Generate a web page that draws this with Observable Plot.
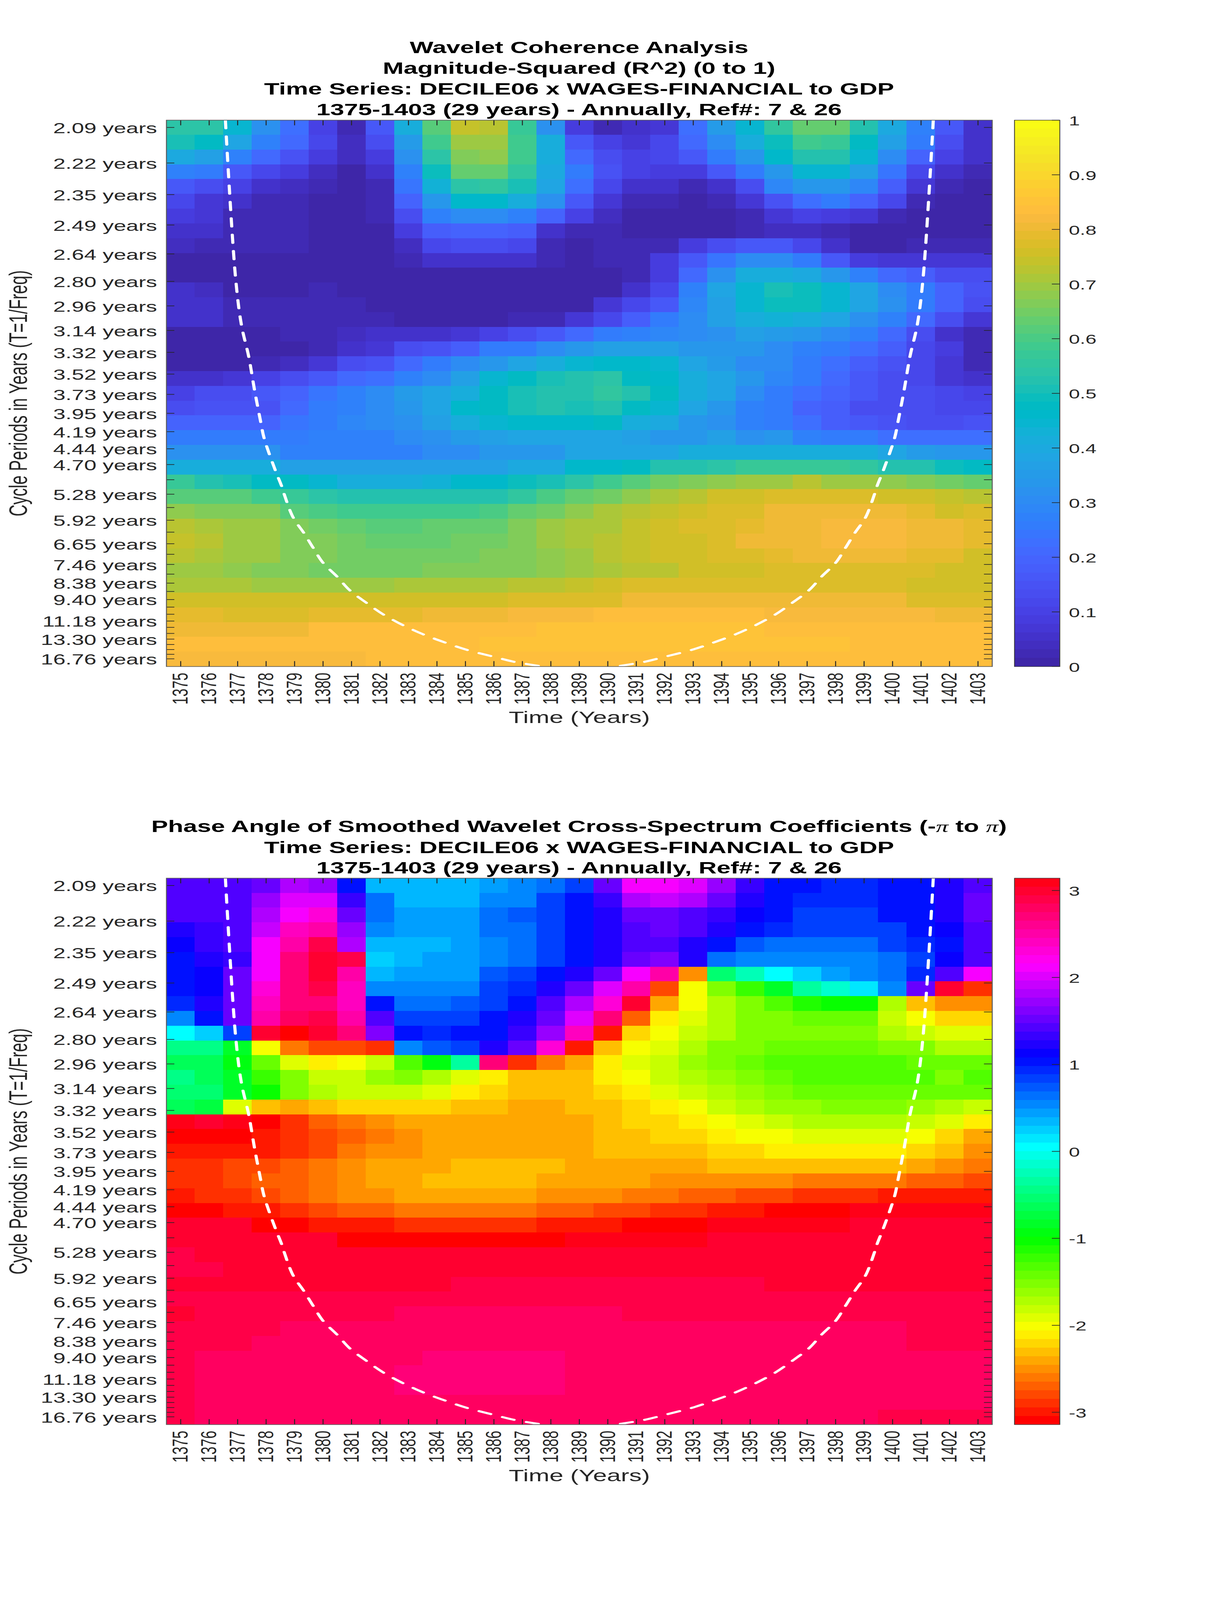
<!DOCTYPE html>
<html>
<head>
<meta charset="utf-8">
<script src="https://cdn.jsdelivr.net/npm/d3@7"></script>
<script src="https://cdn.jsdelivr.net/npm/@observablehq/plot@0.6"></script>
<style>
html,body{margin:0;padding:0;background:#fff;overflow:hidden;}
#page{position:relative;width:3125px;height:6252px;overflow:hidden;background:#fff;font-family:"Liberation Sans",Arial,sans-serif;transform-origin:0 0;}
.title{position:absolute;left:0;width:2964px;text-align:center;font-weight:bold;font-size:64px;line-height:80.6px;color:#000;white-space:nowrap;}
.title .pi{font-family:"Liberation Serif",serif;font-style:italic;font-weight:normal;}
.part{position:absolute;}
</style>
</head>
<body>
<div id="page">
<div class="title" style="top:146px">Wavelet Coherence Analysis<br>Magnitude-Squared (R^2) (0 to 1)<br>Time Series: DECILE06 x WAGES-FINANCIAL to GDP<br>1375-1403 (29 years) - Annually, Ref#: 7 &amp; 26</div>
<div class="title" style="top:3189px">Phase Angle of Smoothed Wavelet Cross-Spectrum Coefficients (-<span class="pi">π</span> to <span class="pi">π</span>)<br>Time Series: DECILE06 x WAGES-FINANCIAL to GDP<br>1375-1403 (29 years) - Annually, Ref#: 7 &amp; 26</div>
</div>
<script>
const years = d3.range(1375, 1404);
const periods = [2.09,2.22,2.35,2.49,2.64,2.80,2.96,3.14,3.32,3.52,3.73,3.95,4.19,4.44,4.70,4.98,5.28,5.59,5.92,6.27,6.65,7.04,7.46,7.91,8.38,8.87,9.40,9.96,10.55,11.18,11.84,12.55,13.30,14.09,14.93,15.82,16.76];
const labelledPeriods = [2.09,2.22,2.35,2.49,2.64,2.80,2.96,3.14,3.32,3.52,3.73,3.95,4.19,4.44,4.70,5.28,5.92,6.65,7.46,8.38,9.40,11.18,13.30,16.76];
const freqTop = 0.48423, freqBottom = 0.05358;

const coherence = [
[.54,.54,.45,.32,.22,.10,.03,.16,.42,.62,.74,.72,.57,.32,.09,.03,.05,.07,.22,.35,.45,.55,.63,.63,.52,.40,.28,.17,.06],
[.50,.48,.38,.28,.21,.11,.04,.14,.35,.59,.69,.69,.59,.42,.17,.10,.07,.12,.21,.31,.41,.49,.59,.57,.48,.37,.25,.13,.06],
[.40,.37,.28,.21,.15,.09,.04,.09,.32,.54,.67,.68,.59,.42,.21,.14,.10,.11,.17,.25,.34,.46,.52,.52,.45,.30,.19,.10,.05],
[.27,.25,.16,.12,.09,.04,.00,.05,.27,.49,.63,.64,.55,.40,.25,.15,.10,.09,.09,.16,.25,.34,.44,.44,.36,.24,.11,.05,.03],
[.16,.14,.10,.06,.04,.02,.00,.03,.24,.43,.54,.56,.50,.39,.22,.12,.06,.05,.03,.06,.14,.29,.34,.34,.29,.18,.07,.03,.01],
[.11,.07,.06,.03,.03,.01,.00,.03,.19,.34,.46,.46,.41,.32,.17,.07,.03,.02,.01,.03,.07,.15,.22,.25,.20,.11,.03,.00,.00],
[.09,.07,.03,.03,.02,.01,.00,.02,.14,.27,.31,.31,.27,.19,.10,.04,.01,.01,.00,.00,.02,.07,.10,.09,.07,.03,.00,.00,.00],
[.06,.06,.03,.02,.02,.01,.00,.00,.09,.18,.20,.20,.18,.06,.03,.02,.01,.01,.01,.01,.02,.04,.04,.03,.00,.00,.00,.00,.00],
[.04,.03,.02,.02,.02,.01,.00,.00,.04,.11,.13,.13,.11,.03,.01,.03,.03,.03,.08,.14,.16,.16,.12,.05,.00,.00,.02,.03,.03],
[.01,.01,.01,.01,.01,.00,.00,.00,.03,.05,.06,.06,.05,.03,.00,.02,.02,.08,.17,.24,.30,.30,.25,.17,.09,.07,.07,.07,.07],
[.01,.01,.00,.00,.01,.01,.00,.00,.00,.01,.01,.01,.01,.01,.00,.00,.03,.09,.21,.32,.42,.42,.40,.33,.28,.21,.18,.14,.14],
[.05,.04,.00,.00,.00,.02,.00,.00,.00,.00,.00,.00,.00,.00,.00,.01,.06,.12,.28,.38,.45,.50,.49,.45,.38,.30,.25,.19,.15],
[.06,.06,.03,.03,.02,.02,.02,.00,.00,.00,.00,.00,.00,.00,.01,.07,.11,.17,.29,.37,.45,.49,.49,.45,.38,.32,.26,.20,.13],
[.05,.05,.02,.02,.02,.03,.03,.03,.00,.00,.00,.00,.02,.03,.07,.12,.18,.25,.31,.36,.41,.43,.41,.38,.32,.27,.21,.13,.07],
[.00,.00,.00,.00,.02,.03,.04,.05,.06,.06,.07,.10,.13,.16,.21,.25,.27,.29,.31,.32,.36,.35,.33,.30,.27,.21,.14,.06,.02],
[.00,.00,.00,.00,.00,.02,.05,.07,.13,.15,.18,.25,.26,.31,.34,.36,.36,.36,.34,.34,.34,.31,.28,.25,.23,.18,.12,.08,.02],
[.00,.00,.00,.03,.04,.07,.13,.15,.21,.25,.30,.33,.39,.42,.45,.46,.46,.44,.39,.35,.31,.30,.26,.22,.18,.15,.12,.07,.03],
[.05,.05,.07,.10,.13,.16,.21,.22,.28,.31,.37,.44,.47,.51,.52,.54,.48,.46,.42,.38,.34,.29,.25,.21,.16,.13,.11,.07,.06],
[.10,.13,.13,.16,.19,.24,.28,.30,.35,.38,.42,.47,.51,.53,.52,.56,.52,.47,.42,.38,.31,.26,.23,.20,.16,.14,.13,.11,.10],
[.14,.15,.15,.15,.21,.25,.28,.31,.33,.39,.46,.47,.50,.52,.50,.53,.47,.45,.38,.34,.28,.25,.20,.18,.14,.14,.13,.12,.11],
[.20,.20,.20,.20,.24,.26,.29,.30,.32,.37,.41,.44,.46,.46,.46,.47,.42,.40,.34,.32,.28,.25,.22,.18,.16,.15,.13,.13,.15],
[.25,.25,.25,.25,.26,.28,.28,.28,.30,.32,.35,.37,.38,.38,.38,.38,.37,.34,.33,.36,.32,.33,.28,.25,.25,.22,.22,.22,.22],
[.32,.32,.32,.32,.28,.28,.28,.28,.28,.30,.30,.33,.33,.33,.38,.38,.38,.38,.42,.42,.41,.41,.41,.41,.41,.38,.35,.33,.33],
[.41,.41,.41,.41,.36,.36,.36,.36,.36,.37,.37,.37,.40,.40,.46,.46,.48,.52,.52,.54,.57,.57,.57,.57,.55,.53,.52,.49,.48],
[.57,.52,.50,.47,.47,.44,.42,.42,.42,.43,.46,.46,.49,.50,.54,.59,.61,.65,.66,.68,.70,.70,.72,.70,.70,.68,.66,.65,.64],
[.62,.61,.61,.59,.57,.54,.52,.52,.52,.52,.52,.53,.56,.60,.63,.65,.68,.71,.73,.75,.76,.78,.78,.78,.78,.75,.75,.74,.72],
[.68,.67,.66,.66,.62,.60,.59,.59,.59,.59,.59,.60,.63,.65,.68,.71,.73,.74,.76,.77,.78,.80,.80,.80,.80,.80,.79,.76,.77],
[.73,.71,.69,.69,.66,.65,.63,.62,.62,.63,.63,.64,.67,.69,.71,.71,.74,.75,.77,.78,.79,.80,.80,.82,.82,.82,.81,.81,.79],
[.74,.72,.70,.70,.66,.66,.65,.64,.64,.64,.65,.65,.67,.69,.71,.73,.74,.75,.76,.78,.80,.81,.81,.82,.82,.82,.81,.81,.79],
[.73,.71,.69,.69,.66,.67,.65,.65,.65,.65,.65,.66,.66,.68,.70,.72,.74,.75,.76,.78,.78,.79,.80,.80,.80,.80,.79,.79,.76],
[.70,.70,.68,.67,.66,.65,.65,.65,.65,.66,.66,.66,.67,.68,.70,.71,.73,.73,.75,.76,.76,.77,.77,.77,.77,.77,.77,.75,.75],
[.71,.71,.71,.70,.70,.70,.70,.70,.71,.71,.71,.71,.72,.72,.74,.75,.77,.77,.77,.78,.78,.78,.78,.78,.78,.78,.76,.76,.76],
[.75,.75,.75,.75,.75,.75,.75,.75,.75,.75,.76,.76,.77,.78,.78,.78,.80,.80,.80,.80,.80,.80,.80,.80,.80,.80,.78,.78,.78],
[.79,.79,.78,.78,.78,.79,.79,.79,.79,.81,.81,.81,.82,.82,.82,.83,.84,.84,.84,.84,.84,.82,.82,.82,.82,.82,.82,.81,.81],
[.81,.81,.81,.81,.81,.83,.83,.83,.83,.84,.84,.84,.84,.85,.85,.85,.85,.85,.85,.85,.85,.84,.84,.84,.84,.84,.84,.83,.83],
[.83,.83,.83,.83,.83,.83,.83,.84,.84,.84,.84,.85,.85,.85,.85,.85,.85,.85,.85,.85,.85,.85,.85,.85,.84,.84,.84,.84,.84],
[.82,.82,.82,.82,.82,.82,.82,.83,.83,.83,.83,.83,.83,.83,.83,.84,.84,.84,.84,.84,.84,.84,.84,.84,.84,.84,.83,.83,.83]
];

const phase = [
[1.45,1.45,1.45,1.57,1.78,1.71,1.05,.39,.30,.30,.36,.45,.55,.65,.79,1.5,2.09,2.09,1.97,1.68,1.31,1.05,1.0,.9,.9,1.0,1.05,1.25,1.45],
[1.45,1.45,1.47,1.75,1.97,1.97,1.31,.62,.39,.39,.39,.5,.5,.79,1.05,1.3,1.83,1.9,1.85,1.57,1.25,1.05,.92,.92,.92,1.0,1.05,1.18,1.55],
[1.38,1.38,1.45,1.83,2.09,2.29,1.57,.62,.42,.42,.42,.65,.72,.85,1.05,1.2,1.55,1.5,1.45,1.31,1.13,1.02,.88,.88,.88,1.0,1.05,1.2,1.5],
[1.25,1.31,1.4,1.93,2.45,2.55,1.7,.52,.42,.42,.42,.6,.68,.85,1.05,1.18,1.38,1.5,1.45,1.2,1.05,.92,.79,.79,.79,.85,1.05,1.13,1.42],
[1.13,1.31,1.38,2.09,2.52,2.88,1.83,.3,.3,.39,.4,.58,.68,.85,1.05,1.18,1.38,1.45,1.25,1.05,.76,.68,.68,.68,.68,.82,.97,1.05,1.45],
[1.05,1.2,1.31,2.09,2.74,3.0,2.85,.22,.33,.42,.42,.58,.65,.85,1.05,1.18,1.5,1.6,1.18,.65,.5,.5,.5,.5,.58,.68,.85,1.08,1.42],
[1.05,1.13,1.5,2.09,2.74,2.95,2.52,.33,.42,.42,.45,.76,.79,1.05,1.25,1.5,2.09,2.55,-2.5,-.55,-.2,0,.2,.42,.52,.68,.97,1.45,2.09],
[1.0,1.1,1.5,2.29,2.68,2.88,2.42,.58,.5,.5,.58,.82,.9,1.18,1.5,1.97,2.55,-2.8,-2.05,-1.57,-1.2,-.85,-.38,-.13,.1,.5,1.57,2.95,-2.9],
[.9,1.18,1.57,2.45,2.68,2.74,2.45,1.0,.68,.68,.72,.88,1.05,1.38,1.78,2.3,3.0,-2.4,-2.0,-1.75,-1.5,-1.28,-1.15,-1.05,-1.05,-1.72,-2.3,-2.5,-2.5],
[.58,1.05,1.57,2.55,2.8,2.88,2.55,1.38,.85,.79,.85,1.0,1.25,1.57,1.97,2.74,-2.7,-2.15,-1.9,-1.74,-1.57,-1.5,-1.4,-1.4,-1.45,-1.78,-2.05,-2.2,-2.2],
[0,.2,.85,2.95,-3.14,3.0,2.74,1.65,1.05,.92,1.0,1.05,1.31,1.7,2.45,-3.0,-2.25,-2.0,-1.8,-1.68,-1.57,-1.48,-1.48,-1.48,-1.48,-1.68,-1.8,-1.95,-1.95],
[-.42,-.42,-.85,-2.05,-2.6,-2.8,-2.8,-2.9,.58,.7,.85,1.18,1.57,2.3,-3.0,-2.3,-2.05,-1.88,-1.7,-1.55,-1.55,-1.4,-1.4,-1.4,-1.45,-1.5,-1.55,-1.72,-1.72],
[-.6,-.6,-.9,-1.38,-1.95,-2.15,-2.05,-1.8,-1.35,-.9,-.38,2.74,-2.9,-2.6,-2.4,-2.1,-1.95,-1.83,-1.6,-1.5,-1.4,-1.33,-1.33,-1.33,-1.33,-1.33,-1.4,-1.45,-1.45],
[-.45,-.65,-.85,-1.2,-1.57,-1.78,-1.78,-1.65,-1.5,-1.7,-1.88,-2.1,-2.3,-2.3,-2.3,-2.1,-2.05,-1.83,-1.74,-1.65,-1.55,-1.45,-1.33,-1.33,-1.33,-1.33,-1.33,-1.48,-1.3],
[-.5,-.5,-.85,-1.05,-1.55,-1.74,-1.83,-1.83,-1.83,-1.95,-2.1,-2.2,-2.3,-2.3,-2.3,-2.2,-2.1,-1.95,-1.83,-1.74,-1.65,-1.5,-1.45,-1.45,-1.45,-1.45,-1.45,-1.45,-1.45],
[-.6,-.75,-1.95,-2.3,-2.4,-2.3,-2.2,-2.2,-2.2,-2.2,-2.3,-2.3,-2.4,-2.4,-2.3,-2.3,-2.2,-2.1,-2.05,-1.83,-1.74,-1.65,-1.65,-1.55,-1.55,-1.55,-1.65,-1.74,-1.83],
[3.05,2.95,3.05,-3.14,-2.9,-2.7,-2.6,-2.5,-2.4,-2.4,-2.4,-2.4,-2.4,-2.4,-2.4,-2.3,-2.2,-2.2,-2.1,-2.05,-1.95,-1.83,-1.74,-1.74,-1.74,-1.74,-1.83,-1.95,-2.1],
[-3.14,-3.14,-3.14,-3.0,-2.9,-2.8,-2.7,-2.6,-2.5,-2.4,-2.4,-2.4,-2.4,-2.4,-2.4,-2.3,-2.3,-2.2,-2.2,-2.1,-2.05,-2.05,-1.95,-1.95,-1.95,-1.95,-2.05,-2.2,-2.4],
[-3.0,-3.0,-3.0,-3.0,-2.9,-2.8,-2.6,-2.5,-2.5,-2.4,-2.4,-2.4,-2.4,-2.4,-2.4,-2.3,-2.3,-2.3,-2.3,-2.2,-2.2,-2.1,-2.1,-2.1,-2.1,-2.1,-2.2,-2.3,-2.5],
[-2.9,-2.9,-2.8,-2.8,-2.7,-2.6,-2.5,-2.4,-2.4,-2.4,-2.3,-2.3,-2.3,-2.3,-2.4,-2.4,-2.4,-2.4,-2.4,-2.3,-2.3,-2.3,-2.3,-2.3,-2.3,-2.3,-2.4,-2.5,-2.6],
[-2.9,-2.9,-2.8,-2.7,-2.7,-2.6,-2.5,-2.4,-2.4,-2.3,-2.3,-2.3,-2.3,-2.4,-2.4,-2.4,-2.4,-2.5,-2.5,-2.5,-2.5,-2.5,-2.6,-2.6,-2.6,-2.6,-2.7,-2.7,-2.8],
[-3.0,-2.9,-2.9,-2.8,-2.7,-2.6,-2.5,-2.5,-2.4,-2.4,-2.4,-2.4,-2.4,-2.5,-2.5,-2.5,-2.6,-2.6,-2.7,-2.7,-2.8,-2.8,-2.9,-2.9,-2.9,-3.0,-3.0,-3.0,-3.0],
[-3.14,-3.14,-3.0,-3.0,-2.9,-2.8,-2.7,-2.7,-2.6,-2.6,-2.6,-2.6,-2.6,-2.7,-2.7,-2.8,-2.8,-2.9,-2.9,-3.0,-3.0,-3.14,-3.14,-3.14,3.05,3.05,3.05,3.05,3.05],
[3.0,3.0,3.0,-3.14,-3.14,-3.0,-3.0,-3.0,-2.9,-2.9,-2.9,-2.9,-2.9,-3.0,-3.0,-3.0,-3.14,-3.14,-3.14,3.05,3.05,3.05,3.05,3.05,2.95,2.95,2.95,2.95,3.0],
[3.0,3.0,3.0,3.0,3.0,3.0,-3.14,-3.14,-3.14,-3.14,-3.14,-3.14,-3.14,-3.14,3.05,3.05,3.05,3.05,3.05,2.95,2.95,2.95,2.95,2.95,2.95,2.95,2.95,2.95,2.95],
[2.88,3.0,3.0,3.0,3.0,3.0,3.0,3.0,3.0,3.0,3.0,3.0,3.0,3.0,3.0,2.95,2.95,2.95,2.95,2.95,2.95,2.95,2.95,2.95,2.95,2.95,2.95,2.95,2.95],
[2.9,2.9,2.95,2.95,2.95,2.95,2.95,2.95,2.95,2.95,2.95,2.95,2.95,2.95,2.95,2.95,2.95,2.95,2.95,2.95,2.95,2.95,2.95,2.95,2.95,2.95,2.95,2.95,2.95],
[2.95,2.95,2.95,2.95,2.95,2.95,2.95,2.95,2.95,2.95,2.9,2.9,2.9,2.9,2.9,2.9,2.9,2.9,2.9,2.9,2.9,2.95,2.95,2.95,2.95,2.95,2.95,2.95,2.95],
[2.9,2.9,2.9,2.9,2.9,2.9,2.9,2.9,2.9,2.9,2.9,2.9,2.9,2.9,2.9,2.9,2.9,2.9,2.9,2.9,2.9,2.9,2.9,2.9,2.9,2.9,2.9,2.9,2.9],
[2.95,2.9,2.9,2.9,2.9,2.9,2.9,2.9,2.82,2.82,2.82,2.82,2.82,2.82,2.82,2.82,2.9,2.9,2.9,2.9,2.9,2.9,2.9,2.9,2.9,2.9,2.9,2.9,2.9],
[2.9,2.9,2.9,2.9,2.82,2.82,2.82,2.82,2.82,2.82,2.82,2.82,2.82,2.82,2.82,2.82,2.82,2.82,2.82,2.82,2.82,2.82,2.82,2.82,2.82,2.82,2.9,2.9,2.9],
[2.9,2.9,2.9,2.82,2.82,2.82,2.82,2.82,2.82,2.82,2.82,2.82,2.82,2.82,2.82,2.82,2.82,2.82,2.82,2.82,2.82,2.82,2.82,2.82,2.82,2.82,2.85,2.85,2.85],
[2.9,2.82,2.82,2.8,2.8,2.8,2.8,2.8,2.8,2.72,2.72,2.72,2.72,2.72,2.8,2.8,2.8,2.8,2.8,2.8,2.8,2.8,2.8,2.8,2.8,2.8,2.82,2.82,2.82],
[2.9,2.8,2.8,2.8,2.8,2.8,2.8,2.8,2.72,2.72,2.72,2.72,2.72,2.72,2.8,2.8,2.8,2.8,2.8,2.8,2.8,2.8,2.8,2.8,2.8,2.8,2.82,2.82,2.82],
[2.9,2.8,2.8,2.8,2.8,2.8,2.8,2.8,2.72,2.72,2.72,2.72,2.72,2.72,2.8,2.8,2.8,2.8,2.8,2.8,2.8,2.8,2.8,2.8,2.8,2.8,2.82,2.82,2.82],
[2.9,2.8,2.8,2.8,2.8,2.8,2.8,2.8,2.8,2.8,2.8,2.8,2.8,2.8,2.8,2.8,2.8,2.8,2.8,2.8,2.8,2.8,2.8,2.8,2.8,2.8,2.8,2.8,2.8],
[2.88,2.8,2.8,2.8,2.8,2.8,2.8,2.8,2.8,2.8,2.8,2.8,2.8,2.8,2.8,2.8,2.8,2.8,2.8,2.8,2.8,2.8,2.8,2.8,2.8,2.85,2.85,2.85,2.85]
];

// cone of influence (top to bottom)
const coiPeriods = [2.065,2.764,3.094,3.358,3.677,4.058,4.281,4.798,5.10,5.27,5.845,6.30,6.79,7.39,8.03,8.80,9.63,10.59,11.59,12.64,13.77,14.97,16.31,17.45,18.48];
const coiLeftYears = [1376.57,1376.92,1377.13,1377.39,1377.59,1377.81,1377.93,1378.32,1378.54,1378.63,1378.95,1379.33,1379.65,1380.0,1380.49,1380.94,1381.52,1382.13,1382.8,1383.5,1384.27,1385.04,1385.99,1386.71,1387.56];
const coiRightYears = [1401.43,1401.08,1400.87,1400.61,1400.41,1400.19,1400.07,1399.68,1399.46,1399.37,1399.05,1398.67,1398.35,1398.0,1397.51,1397.06,1396.48,1395.87,1395.2,1394.5,1393.73,1392.96,1392.01,1391.29,1390.44];

// MATLAB parula(64)
const parulaRows = [[.2422,.1504,.6603],[.2504,.1650,.7076],[.2578,.1818,.7511],[.2647,.1978,.7952],[.2706,.2147,.8364],[.2751,.2342,.8710],[.2783,.2559,.8991],[.2803,.2782,.9221],[.2813,.3006,.9414],[.2810,.3228,.9579],[.2795,.3447,.9717],[.2760,.3667,.9829],[.2699,.3892,.9906],[.2602,.4123,.9952],[.2440,.4358,.9988],[.2206,.4603,.9973],[.1963,.4847,.9892],[.1834,.5074,.9798],[.1786,.5289,.9682],[.1764,.5499,.9520],[.1687,.5703,.9359],[.1540,.5902,.9218],[.1460,.6091,.9079],[.1380,.6276,.8973],[.1248,.6459,.8883],[.1113,.6635,.8763],[.0952,.6798,.8598],[.0689,.6948,.8394],[.0297,.7082,.8163],[.0036,.7203,.7917],[.0067,.7312,.7660],[.0433,.7411,.7394],[.0964,.7500,.7120],[.1408,.7584,.6842],[.1717,.7670,.6554],[.1938,.7758,.6251],[.2161,.7843,.5923],[.2470,.7918,.5567],[.2906,.7973,.5188],[.3406,.8008,.4789],[.3909,.8029,.4354],[.4456,.8024,.3909],[.5044,.7993,.3480],[.5616,.7942,.3045],[.6174,.7876,.2612],[.6720,.7793,.2227],[.7242,.7698,.1910],[.7738,.7598,.1646],[.8203,.7498,.1535],[.8634,.7406,.1596],[.9035,.7330,.1774],[.9393,.7288,.2100],[.9728,.7298,.2394],[.9956,.7434,.2371],[.9970,.7659,.2199],[.9952,.7893,.2028],[.9892,.8136,.1885],[.9786,.8386,.1766],[.9676,.8639,.1643],[.9610,.8890,.1537],[.9597,.9135,.1423],[.9628,.9373,.1265],[.9691,.9606,.1064],[.9769,.9839,.0805]];
const parula = parulaRows.map(([r,g,b]) => d3.rgb(r*255,g*255,b*255).toString());
const hsv64 = d3.range(64).map(i => d3.hsl(i*360/64,1,.5).toString());

const ink = "#262626";
const fontFamily = '"Liberation Sans", Arial, sans-serif';
const frameHeight = 2135, frameWidth = 2113.5;
const page = document.getElementById("page");

function place(node, left, top){
  const wrap = document.createElement("div");
  wrap.className = "part";
  wrap.style.left = left + "px";
  wrap.style.top = top + "px";
  wrap.appendChild(node);
  page.appendChild(wrap);
}

function heatmap(values, colorDomain, colorRange){
  const cells = values.flatMap((row, r) => row.map((v, c) => ({year: years[c], r, v})));
  const step = (freqTop - freqBottom) / values.length;
  const ticks = periods.map(p => 1 / p);
  const labelled = new Map(labelledPeriods.map(p => [1 / p, p.toFixed(2) + " years"]));
  const coi = yrs => yrs.map((year, i) => ({year, freq: 1 / coiPeriods[i]}));
  const tick = {stroke: ink, strokeWidth: 2.5};
  return Plot.plot({
    width: 2560, height: 40 + frameHeight + 340,
    marginLeft: 425.5, marginRight: 21, marginTop: 40, marginBottom: 340,
    style: {fontFamily, background: "transparent", overflow: "visible"},
    x: {domain: [1374.5, 1403.5], axis: null},
    y: {domain: [freqBottom, freqTop], axis: null},
    color: {type: "threshold", domain: colorDomain, range: colorRange},
    marks: [
      Plot.rect(cells, {
        x1: d => d.year - .5, x2: d => d.year + .5,
        y1: d => freqTop - d.r * step, y2: d => freqTop - (d.r + 1) * step,
        fill: "v", shapeRendering: "crispEdges"
      }),
      Plot.line(coi(coiLeftYears), {x: "year", y: "freq", stroke: "white", strokeWidth: 8, strokeDasharray: "32 32", curve: "catmull-rom", clip: true}),
      Plot.line(coi(coiRightYears), {x: "year", y: "freq", stroke: "white", strokeWidth: 8, strokeDasharray: "32 32", curve: "catmull-rom", clip: true}),
      Plot.ruleX(years, {...tick, insetBottom: frameHeight - 20.7}),
      Plot.ruleX(years, {...tick, insetTop: frameHeight - 20.7}),
      Plot.ruleY(ticks, {...tick, insetRight: frameWidth - 20.7}),
      Plot.ruleY(ticks, {...tick, insetLeft: frameWidth - 20.7}),
      Plot.frame({stroke: "#5a5a5a", strokeWidth: 2.5}),
      Plot.axisX(years, {anchor: "bottom", tickSize: 0, tickPadding: 24, tickRotate: -90, fontSize: 56, fill: ink, label: null, tickFormat: d => String(d)}),
      Plot.axisY(ticks, {anchor: "left", tickSize: 0, tickPadding: 24, fontSize: 57, fill: ink, label: null, dy: 4, tickFormat: f => labelled.get(f) ?? ""}),
      Plot.text(["Time (Years)"], {frameAnchor: "bottom", lineAnchor: "middle", dy: 201, fontSize: 64, fill: ink}),
      Plot.text(["Cycle Periods in Years (T=1/Freq)"], {frameAnchor: "left", textAnchor: "middle", lineAnchor: "middle", dx: -377.5, rotate: -90, fontSize: 64, fill: ink})
    ]
  });
}

function colorbar(domainY, colorDomain, colorRange, tickValues, fmt){
  const n = colorRange.length, span = domainY[1] - domainY[0];
  const levels = d3.range(n).map(i => ({
    lo: domainY[0] + i * span / n,
    hi: domainY[0] + (i + 1) * span / n,
    mid: domainY[0] + (i + .5) * span / n
  }));
  return Plot.plot({
    width: 250, height: 40 + frameHeight + 60,
    marginLeft: 4, marginRight: 130, marginTop: 40, marginBottom: 60,
    style: {fontFamily, background: "transparent", overflow: "visible"},
    x: {domain: [0, 1], axis: null},
    y: {domain: domainY, axis: null},
    color: {type: "threshold", domain: colorDomain, range: colorRange},
    marks: [
      Plot.rect(levels, {x1: () => 0, x2: () => 1, y1: "lo", y2: "hi", fill: "mid", shapeRendering: "crispEdges"}),
      Plot.ruleY(tickValues, {stroke: ink, strokeWidth: 2.5, insetLeft: 96}),
      Plot.frame({stroke: "#333", strokeWidth: 2}),
      Plot.axisY(tickValues, {anchor: "right", tickSize: 0, tickPadding: 23, fontSize: 51, fill: ink, label: null, dy: 4, tickFormat: fmt})
    ]
  });
}

const parulaThresholds = d3.range(1, 64).map(i => i / 64);
const phaseThresholds = d3.range(1, 64).map(i => -Math.PI + i * 2 * Math.PI / 64);

const topA = 468.6, topB = 3430.6;
place(heatmap(coherence, parulaThresholds, parula), 0, topA - 40);
place(heatmap(phase, phaseThresholds, hsv64), 0, topB - 40);
place(colorbar([0, 1], parulaThresholds, parula, d3.range(0, 11).map(i => i / 10), d => String(d)), 2592, topA - 40);
place(colorbar([-Math.PI, Math.PI], phaseThresholds, hsv64, [-3,-2,-1,0,1,2,3], d => String(d)), 2592, topB - 40);

// The window may be shorter than the 6252 px the chart is laid out for: keep the whole page in view.
const fit = Math.min(1, innerHeight / 6252);
if (fit < 1) {
  page.style.transform = `scaleY(${fit})`;
  document.body.style.height = innerHeight + "px";
}
</script>
</body>
</html>
